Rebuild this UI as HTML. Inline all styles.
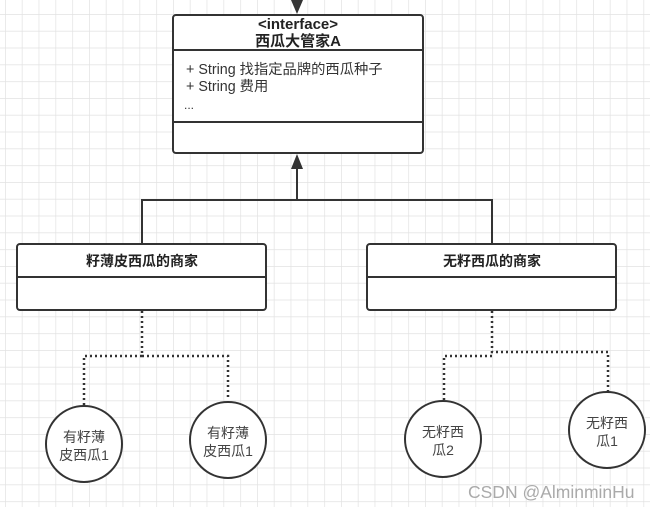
<!DOCTYPE html>
<html><head><meta charset="utf-8"><style>
html,body{margin:0;padding:0;background:#fff;}
svg{display:block;}
text{font-family:"Liberation Sans","Noto Sans CJK SC",sans-serif;}
</style></head><body>
<svg width="650" height="507" viewBox="0 0 650 507" xmlns="http://www.w3.org/2000/svg">
<defs>
<pattern id="g" x="5" y="14" width="16.8" height="16.8" patternUnits="userSpaceOnUse">
<path d="M0 0H16.8M0 0V16.8" stroke="#e2e2e2" stroke-width="1.4" fill="none"/>
</pattern>
</defs>
<rect width="650" height="507" fill="url(#g)"/>
<g stroke="#333" stroke-width="2" fill="none">
<line x1="297" y1="0" x2="297" y2="6"/>
<path d="M297 168V200H142V244M297 200H492V244"/>
</g>
<polygon points="291,0 303,0 297,14" fill="#333"/>
<polygon points="297,154 291,169 303,169" fill="#333"/>
<rect x="173" y="15" width="250" height="138" rx="3" fill="#fff" stroke="#333" stroke-width="2"/>
<line x1="173" y1="50" x2="423" y2="50" stroke="#333" stroke-width="2"/>
<line x1="173" y1="122" x2="423" y2="122" stroke="#333" stroke-width="2"/>
<text x="298" y="29" font-size="15" font-weight="bold" text-anchor="middle" fill="#222">&lt;interface&gt;</text>
<text x="298" y="46" font-size="15" font-weight="bold" text-anchor="middle" fill="#222">西瓜大管家A</text>
<text x="186" y="74" font-size="14.3" fill="#333">+ String 找指定品牌的西瓜种子</text>
<text x="186" y="91" font-size="14.3" fill="#333">+ String 费用</text>
<text x="184" y="109" font-size="12" fill="#333">...</text>
<rect x="17" y="244" width="249" height="66" rx="3" fill="#fff" stroke="#333" stroke-width="2"/>
<line x1="17" y1="277" x2="266" y2="277" stroke="#333" stroke-width="2"/>
<text x="142" y="266" font-size="14" font-weight="bold" text-anchor="middle" fill="#222">籽薄皮西瓜的商家</text>
<rect x="367" y="244" width="249" height="66" rx="3" fill="#fff" stroke="#333" stroke-width="2"/>
<line x1="367" y1="277" x2="616" y2="277" stroke="#333" stroke-width="2"/>
<text x="492" y="266" font-size="14" font-weight="bold" text-anchor="middle" fill="#222">无籽西瓜的商家</text>
<g stroke="#333" stroke-width="2.5" stroke-dasharray="2 3" fill="none">
<path d="M142 311V356H84V405M142 356H228V400"/>
<path d="M492 311V352H608V392M492 356H444V401"/>
</g>
<g fill="#fff" stroke="#333" stroke-width="2">
<circle cx="84" cy="444" r="38"/>
<circle cx="228" cy="440" r="38"/>
<circle cx="443" cy="439" r="38"/>
<circle cx="607" cy="430" r="38"/>
</g>
<g font-size="14" fill="#444" text-anchor="middle">
<text x="84" y="442">有籽薄</text><text x="84" y="460">皮西瓜1</text>
<text x="228" y="438">有籽薄</text><text x="228" y="456">皮西瓜1</text>
<text x="443" y="437">无籽西</text><text x="443" y="455">瓜2</text>
<text x="607" y="428">无籽西</text><text x="607" y="446">瓜1</text>
</g>
<text x="468" y="498" font-size="17.5" fill="#aaa">CSDN @AlminminHu</text>
</svg>
</body></html>
